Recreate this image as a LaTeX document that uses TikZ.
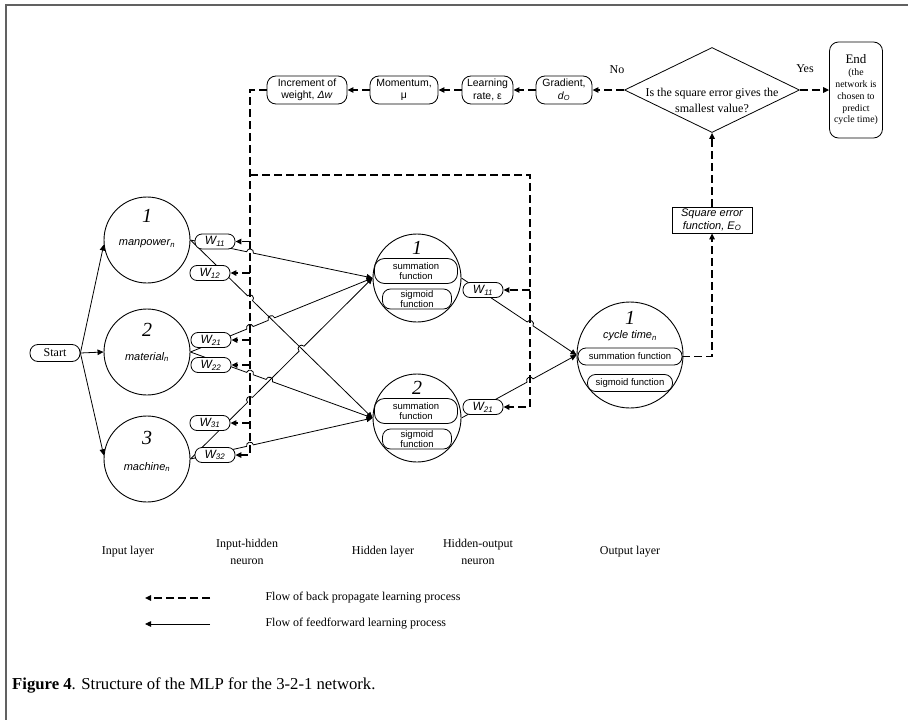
\documentclass[tikz,border=0pt]{standalone}
\usepackage{fontspec}
\setmainfont{Liberation Serif}
\setsansfont{Liberation Sans}
\usetikzlibrary{calc,arrows.meta,shapes.geometric}
\pgfdeclarelayer{bg}
\pgfsetlayers{bg,main}
% hop of a line A--B over a crossing X
\newcommand{\tkhop}[3]{-- ($(#1)!3.5pt!(#2)$) .. controls ($(#1)!3.5pt!(#2)!4.6pt!90:(#1)$) and ($(#1)!3.5pt!(#3)!4.6pt!-90:(#1)$) .. ($(#1)!3.5pt!(#3)$)}
\begin{document}
\begin{tikzpicture}[x=1pt,y=-1pt,
  >={Triangle[length=6pt,width=5.5pt]},
  ff/.style={line width=0.8pt,->},
  bp/.style={line width=1.3pt,dash pattern=on 8pt off 4pt},
  bpa/.style={bp,->},
  neuron/.style={circle,draw,line width=0.9pt,minimum size=#1,inner sep=0pt},
  rbox/.style={draw,fill=white,rounded corners=#1,inner sep=0pt,align=center,line width=0.8pt},
  wbox/.style={rbox=7pt,minimum width=40pt,minimum height=15pt,font=\sffamily\itshape\fontsize{12}{12}\selectfont},
  topbox/.style={rbox=9pt,minimum height=28pt,font=\sffamily\fontsize{10.5}{12.5}\selectfont},
  ibox/.style={rbox=8pt,font=\sffamily\fontsize{9.5}{10.5}\selectfont},
  lbl/.style={font=\fontsize{12}{17}\selectfont,align=center},
  digit/.style={font=\itshape\fontsize{20}{20}\selectfont,inner sep=0pt},
  iname/.style={font=\sffamily\itshape\fontsize{11}{12}\selectfont,inner sep=0pt}]
\useasboundingbox (0,0) rectangle (908,720);
\draw[line width=1.6pt,black!62] (6,720) -- (6,5) -- (908,5);

% start and input layer
\node[rbox=8pt,minimum width=50pt,minimum height=17pt,font=\fontsize{12}{12}\selectfont] (start) at (55,353) {Start};
\node[neuron=86pt] (c1) at (147,240) {};
\node[neuron=86pt] (c2) at (147,352) {};
\node[neuron=86pt] (c3) at (147,459) {};
\node[digit] (c1d) at (147,216) {1};
\node[iname] (c1n) at (147,244) {manpower\textsubscript{n}};
\node[digit] (c2d) at (147,330) {2};
\node[iname] (c2n) at (147,357) {material\textsubscript{n}};
\node[digit] (c3d) at (147,438) {3};
\node[iname] (c3n) at (147,467) {machine\textsubscript{n}};

% input-hidden weights
\node[wbox] (w11) at (215,241.5) {W\textsubscript{11}};
\node[wbox] (w12) at (210,273) {W\textsubscript{12}};
\node[wbox] (w21) at (211,340) {W\textsubscript{21}};
\node[wbox] (w22) at (211,365) {W\textsubscript{22}};
\node[wbox] (w31) at (210,423) {W\textsubscript{31}};
\node[wbox] (w32) at (215,455) {W\textsubscript{32}};

% hidden layer
\node[neuron=88pt] (h1) at (417,278) {};
\node[digit] (h1d) at (417,248) {1};
\node[ibox,minimum width=83pt,minimum height=25pt,rounded corners=10pt] (h1s) at (416,271) {summation\\function};
\node[ibox,minimum width=69pt,minimum height=20pt] (h1g) at (417,299) {sigmoid\\function};
\node[neuron=88pt] (h2) at (417,418) {};
\node[digit] (h2d) at (417,388) {2};
\node[ibox,minimum width=83pt,minimum height=25pt,rounded corners=10pt] (h2s) at (416,411) {summation\\function};
\node[ibox,minimum width=69pt,minimum height=20pt] (h2g) at (417,439) {sigmoid\\function};

% hidden-output weights
\node[wbox] (v11) at (483,290) {W\textsubscript{11}};
\node[wbox] (v21) at (483,407) {W\textsubscript{21}};

% output layer
\node[neuron=106pt] (o) at (630,355) {};
\node[digit] (od) at (630,318) {1};
\node[iname] (on) at (630,336) {cycle time\textsubscript{n}};
\node[ibox,minimum width=104pt,minimum height=17pt] (os) at (630,356.5) {summation function};
\node[ibox,minimum width=85pt,minimum height=17pt] (og) at (630,383) {sigmoid function};

% square error, decision, end
\node[draw,fill=white,line width=0.8pt,minimum width=80pt,minimum height=26pt,inner sep=0pt,align=center,font=\sffamily\itshape\fontsize{11}{12.5}\selectfont] (sq) at (712,220) {Square error\\function, E\textsubscript{O}};
\node[diamond,draw,line width=0.8pt,minimum width=175pt,minimum height=85pt,inner sep=0pt] (dia) at (712,90) {};
\node[font=\fontsize{12}{16}\selectfont,align=center,inner sep=0pt] (diat) at (712,100) {Is the square error gives the\\smallest value?};
\node[rbox=9pt,minimum width=53pt,minimum height=96pt,font=\fontsize{9.8}{11.8}\selectfont] (end) at (856,90) {{\fontsize{13}{13}\selectfont End}\\(the\\network is\\chosen to\\predict\\cycle time)};
\node[lbl] (no) at (617,70) {No};
\node[lbl] (yes) at (805,69) {Yes};

% top row of learning parameters
\node[topbox,minimum width=80pt] (dw) at (307,90) {Increment of\\weight, \textit{Δw}};
\node[topbox,minimum width=68pt] (mom) at (404,90) {Momentum,\\μ};
\node[topbox,minimum width=51pt] (lr) at (487.5,90) {Learning\\rate, ε};
\node[topbox,minimum width=56pt] (grad) at (564,90) {Gradient,\\\textit{d}\textsubscript{\textit{O}}};

% layer labels
\node[lbl] (L1) at (128,552) {Input layer};
\node[lbl] (L2) at (247,552) {Input-hidden\\neuron};
\node[lbl] (L3) at (383,552) {Hidden layer};
\node[lbl] (L4) at (478,552) {Hidden-output\\neuron};
\node[lbl] (L5) at (630,552) {Output layer};

% legend
\coordinate (lg1a) at (210,598);
\coordinate (lg1b) at (145,598);
\coordinate (lg2a) at (210,624);
\coordinate (lg2b) at (145,624);
\draw[bpa] (lg1a) -- (lg1b);
\draw[ff] (lg2a) -- (lg2b);
\node[lbl,anchor=west] (lt1) at (262,598) {Flow of back propagate learning process};
\node[lbl,anchor=west] (lt2) at (262,624) {Flow of feedforward learning process};

% caption
\node[anchor=base west,inner sep=0pt,font=\fontsize{16.7}{20}\selectfont] (cap) at (12,689) {\textbf{Figure 4}. Structure of the MLP for the 3-2-1 network.};

\begin{pgfonlayer}{bg}
\coordinate (vt) at (250,90);
\coordinate (vb) at (250,455);
\coordinate (ht) at (250,175);
\coordinate (hr) at (530,175);
\coordinate (hb) at (530,407);
% crossings
\coordinate (xa) at (intersection of c1.east--h1.west and vt--vb);
\coordinate (xb) at (intersection of c1.east--h2.west and vt--vb);
\coordinate (xc) at (intersection of c2.east--h1.west and vt--vb);
\coordinate (xcb) at (intersection of c2.east--h1.west and c1.east--h2.west);
\coordinate (xd) at (intersection of c2.east--h2.west and vt--vb);
\coordinate (xde) at (intersection of c2.east--h2.west and c3.east--h1.west);
\coordinate (xe) at (intersection of c3.east--h1.west and vt--vb);
\coordinate (xeb) at (intersection of c3.east--h1.west and c1.east--h2.west);
\coordinate (xf) at (intersection of c3.east--h2.west and vt--vb);
\coordinate (xg) at (intersection of h1.east--o.west and hr--hb);
\coordinate (xh) at (intersection of h2.east--o.west and hr--hb);

% feedforward
\draw[ff] (start.east) -- (c1.186);
\draw[ff] (start.east) -- (c2.west);
\draw[ff] (start.east) -- (c3.175);
\draw[ff] (c1.east) \tkhop{xa}{c1.east}{h1.west} -- (h1.west);
\draw[ff] (c1.east) \tkhop{xb}{c1.east}{h2.west} -- (h2.west);
\draw[ff] (c2.east) \tkhop{xc}{c2.east}{h1.west} \tkhop{xcb}{c2.east}{h1.west} -- (h1.west);
\draw[ff] (c2.east) \tkhop{xd}{c2.east}{h2.west} \tkhop{xde}{c2.east}{h2.west} -- (h2.west);
\draw[ff] (c3.east) \tkhop{xe}{c3.east}{h1.west} \tkhop{xeb}{c3.east}{h1.west} -- (h1.west);
\draw[ff] (c3.east) \tkhop{xf}{c3.east}{h2.west} -- (h2.west);
\draw[ff] (h1.east) \tkhop{xg}{h1.east}{o.west} -- (o.west);
\draw[ff] (h2.east) \tkhop{xh}{h2.east}{o.west} -- (o.west);

% back propagation
\draw[bpa] (dw.west) -- (vt) -- (vb) -- (w32.east);
\draw[bpa] (vt |- w11.east) -- (w11.east);
\draw[bpa] (vt |- w12.east) -- (w12.east);
\draw[bpa] (vt |- w21.east) -- (w21.east);
\draw[bpa] (vt |- w22.east) -- (w22.east);
\draw[bpa] (vt |- w31.east) -- (w31.east);
\draw[bpa] (ht) -- (hr) -- (hb) -- (v21.east);
\draw[bpa] (hr |- v11.east) -- (v11.east);
\draw[bpa] (dia.west) -- (grad.east);
\draw[bpa] (grad.west) -- (lr.east);
\draw[bpa] (lr.west) -- (mom.east);
\draw[bpa] (mom.west) -- (dw.east);
\draw[bpa] (dia.east) -- (end.west);
\draw[bpa] (os.east) -| (sq.south);
\draw[bpa] (sq.north) -- (dia.south);
\end{pgfonlayer}
\end{tikzpicture}
\end{document}
